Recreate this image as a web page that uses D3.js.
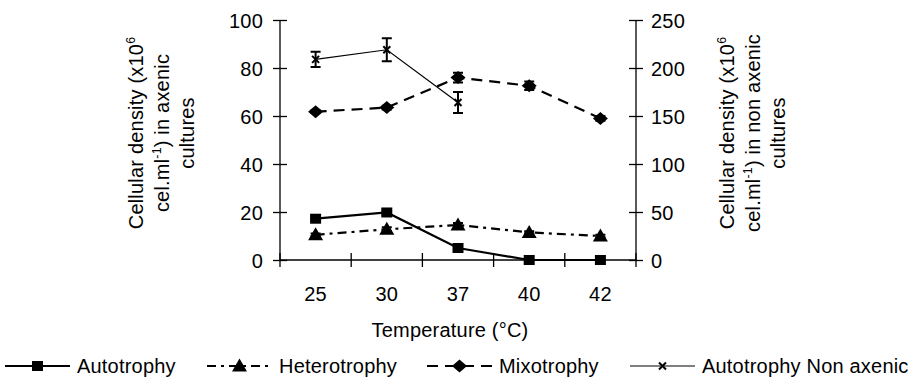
<!DOCTYPE html>
<html><head><meta charset="utf-8">
<script src="https://cdn.jsdelivr.net/npm/d3@7/dist/d3.min.js"></script>
<style>
html,body{margin:0;padding:0;background:#fff;}
text{font-family:"Liberation Sans",Arial,sans-serif;fill:#000;}
</style></head>
<body><svg id="c" width="923" height="388"></svg>
<script>
const temperatures = ["25","30","37","40","42"];
const leftTicks = [0,20,40,60,80,100];
const rightTicks = [0,50,100,150,200,250];
const autotrophy = [17.2,19.8,5.0,0,0];
const autotrophyErr = [0.8,1.0,0.5,0,0];
const heterotrophy = [10.5,12.8,14.6,11.5,10.0];
const heterotrophyErr = [0.5,0.8,0.8,0.5,0.5];
const mixotrophy = [61.8,63.5,76.0,72.6,59.0];
const mixotrophyErr = [0.6,0.8,2.0,1.8,1.0];
const nonAxenic = [209,219,164];
const nonAxenicErr = [8,12,11];
const legendLabels = ["Autotrophy","Heterotrophy","Mixotrophy","Autotrophy Non axenic"];

const FS = 20;
const LS = "0.2px";
const svg = d3.select("#c");
const x = d3.scaleBand().domain(temperatures).range([280,636]).padding(0);
const yL = d3.scaleLinear().domain([0,100]).range([260,20]);
const yR = d3.scaleLinear().domain([0,250]).range([260,20]);
const cx = c => x(c) + x.bandwidth()/2;

function styleText(sel){
  return sel.attr("font-size",FS).attr("letter-spacing",LS)
    .attr("font-family","Liberation Sans, Arial, sans-serif").attr("fill","#000");
}
function txt(g, s, attrs){
  const t = styleText(g.append("text"));
  for (const k in attrs) t.attr(k, attrs[k]);
  t.text(s);
  return t;
}

// Left axis
const gL = svg.append("g").attr("transform","translate(280,0)");
gL.call(d3.axisLeft(yL).tickValues(leftTicks).tickSize(7).tickFormat(d3.format("d")));
gL.select(".domain").attr("d","M0,"+yL(100)+"V"+yL(0)).attr("stroke","#000").attr("stroke-width",1.3);
gL.selectAll(".tick line").attr("x1",-7).attr("x2",7).attr("stroke-width",1.3);
styleText(gL.selectAll(".tick text")).attr("x",-17).attr("dy","0.35em");

// Right axis
const gR = svg.append("g").attr("transform","translate(636,0)");
gR.call(d3.axisRight(yR).tickValues(rightTicks).tickSize(7).tickFormat(d3.format("d")));
gR.select(".domain").attr("d","M0,"+yR(250)+"V"+yR(0)).attr("stroke","#000").attr("stroke-width",1.3);
gR.selectAll(".tick line").attr("x1",-7).attr("x2",7).attr("stroke-width",1.3);
styleText(gR.selectAll(".tick text")).attr("x",15).attr("dy","0.35em");

// X axis
const gX = svg.append("g").attr("transform","translate(0,260)");
gX.call(d3.axisBottom(x).tickSize(0));
gX.select(".domain").attr("d","M280,0H636").attr("stroke","#000").attr("stroke-width",1.3);
styleText(gX.selectAll(".tick text")).attr("y",41).attr("dy",0);
const bounds = temperatures.map(c => x(c)).concat([x(temperatures[temperatures.length-1]) + x.bandwidth()]);
gX.selectAll("line.bt").data(bounds).join("line").attr("class","bt")
  .attr("x1",d=>d).attr("x2",d=>d).attr("y1",-7).attr("y2",7).attr("stroke","#000").attr("stroke-width",1.3);

txt(svg,"Temperature (°C)",{x:450,y:337,"text-anchor":"middle"});

// Axis titles
function vtitle(xc, yc, lines){
  const g = svg.append("g").attr("transform",`translate(${xc},${yc}) rotate(-90)`);
  lines.forEach((parts,i)=>{
    const t = styleText(g.append("text")).attr("text-anchor","middle").attr("y", i*25.5);
    let pendingDown = false;
    parts.forEach(p=>{
      if (typeof p === "string") {
        const ts = t.append("tspan").text(p);
        if (pendingDown) { ts.attr("dy", 8); pendingDown = false; }
      } else {
        t.append("tspan").attr("font-size",FS*0.62).attr("dy",-8).text(p.sup);
        pendingDown = true;
      }
    });
  });
}
vtitle(143, 133, [["Cellular density (x10",{sup:"6"}],["cel.ml",{sup:"-1"},") in axenic"],["cultures"]]);
vtitle(734, 133, [["Cellular density (x10",{sup:"6"}],["cel.ml",{sup:"-1"},") in non axenic"],["cultures"]]);

// Series
const plot = svg.append("g");
function series(vals, errs, yS, style, marker){
  const pts = vals.map((v,i)=>({c:temperatures[i], v, e:errs[i]}));
  plot.append("path").datum(pts)
    .attr("d", d3.line().x(d=>cx(d.c)).y(d=>yS(d.v)))
    .attr("fill","none").attr("stroke","#000")
    .attr("stroke-width",style.w).attr("stroke-dasharray",style.dash||null);
  const eb = plot.append("g");
  pts.filter(d=>d.e>0).forEach(d=>{
    const X = cx(d.c), y1 = yS(d.v+d.e), y2 = yS(d.v-d.e);
    eb.append("path").attr("d",`M${X},${y1}V${y2}M${X-5},${y1}H${X+5}M${X-5},${y2}H${X+5}`)
      .attr("stroke","#000").attr("stroke-width",2).attr("fill","none");
  });
  pts.forEach(d=> marker(plot, cx(d.c), yS(d.v)));
}
const mSquare = (g,X,Y)=> g.append("rect").attr("x",X-5.5).attr("y",Y-5).attr("width",11).attr("height",10).attr("fill","#000");
const mTri = (g,X,Y)=> g.append("path").attr("d",`M${X},${Y-7.5}L${X+7.5},${Y+5.5}L${X-7.5},${Y+5.5}Z`).attr("fill","#000");
const mDia = (g,X,Y)=> g.append("path").attr("d",`M${X},${Y-6.5}L${X+7.5},${Y}L${X},${Y+6.5}L${X-7.5},${Y}Z`).attr("fill","#000");
const mX = (g,X,Y)=> g.append("path").attr("d",`M${X-3.5},${Y-3.5}L${X+3.5},${Y+3.5}M${X+3.5},${Y-3.5}L${X-3.5},${Y+3.5}`).attr("stroke","#000").attr("stroke-width",2);

const styles = [
  {w:2.2, dash:null},
  {w:2.2, dash:"9,5,3,5"},
  {w:2.2, dash:"11,7"},
  {w:1.2, dash:null}
];
const markers = [mSquare, mTri, mDia, mX];
series(heterotrophy, heterotrophyErr, yL, styles[1], mTri);
series(mixotrophy, mixotrophyErr, yL, styles[2], mDia);
series(autotrophy, autotrophyErr, yL, styles[0], mSquare);
series(nonAxenic, nonAxenicErr, yR, styles[3], mX);

// Legend
const legX = [5, 207, 427, 630];
const lg = svg.append("g");
legendLabels.forEach((lab,i)=>{
  const x0 = legX[i], y0 = 366, len = 65;
  lg.append("line").attr("x1",x0).attr("x2",x0+len).attr("y1",y0).attr("y2",y0)
    .attr("stroke","#000").attr("stroke-width",styles[i].w).attr("stroke-dasharray",styles[i].dash);
  markers[i](lg, x0+len/2, y0);
  txt(lg, lab, {x:x0+len+7, y:y0+7});
});
</script></body></html>
